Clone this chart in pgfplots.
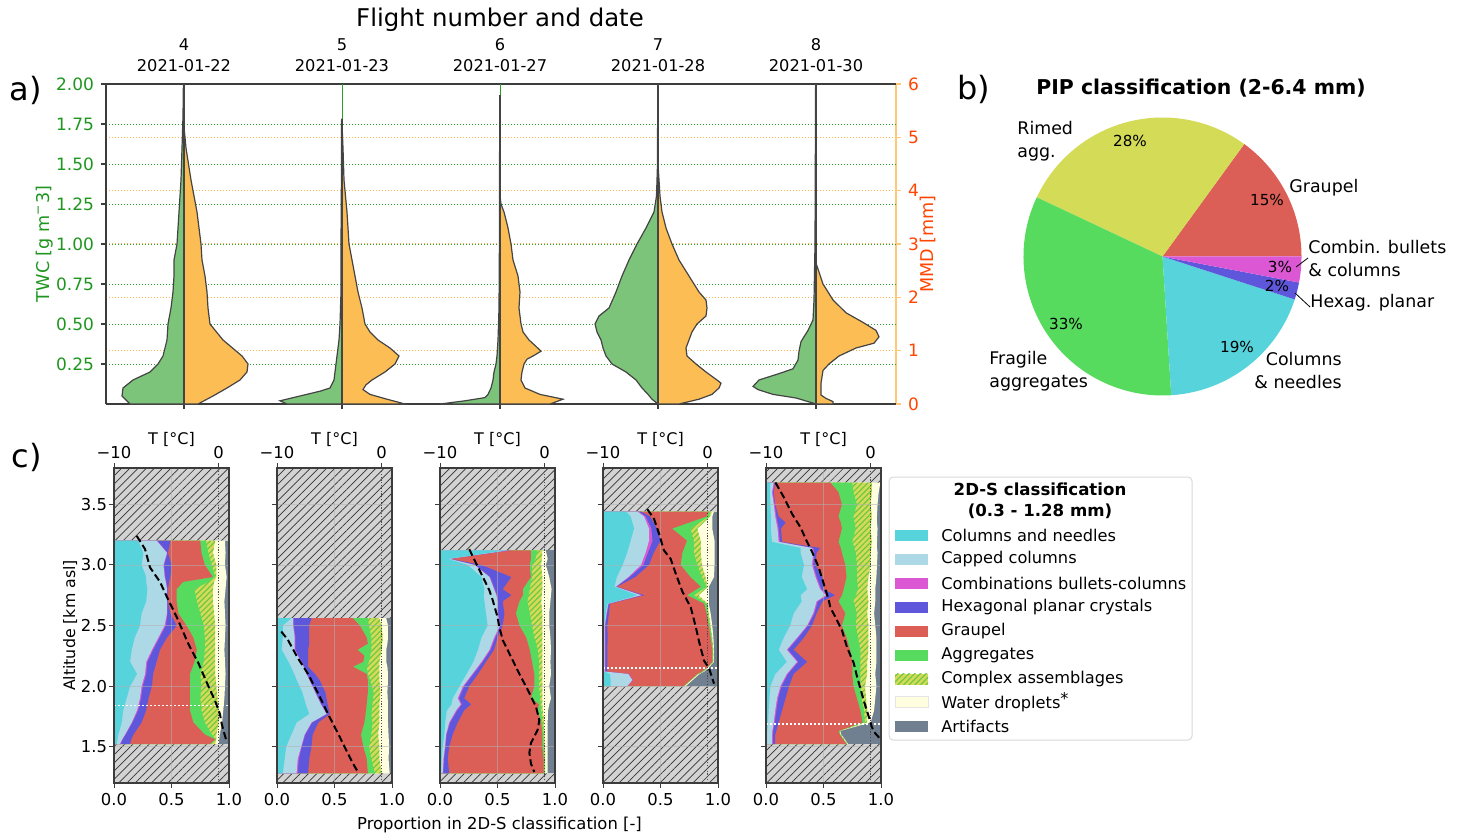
\documentclass[border=0pt]{standalone}
\usepackage{fontspec}
\setmainfont{DejaVu Sans}
\usepackage{pgfplots}
\pgfplotsset{compat=1.18}
\usepackage{pgfplotstable}
\usetikzlibrary{patterns.meta}

\definecolor{cCyan}{HTML}{57D3DB}
\definecolor{cLBlue}{HTML}{ADD8E6}
\definecolor{cMag}{HTML}{DB57D3}
\definecolor{cBlue}{HTML}{5F57DB}
\definecolor{cRed}{HTML}{DB5F57}
\definecolor{cGreen}{HTML}{57DB5F}
\definecolor{cYel}{HTML}{D3DB57}
\definecolor{cHatchG}{RGB}{110,200,70}
\definecolor{cWater}{HTML}{FFFFE0}
\definecolor{cArt}{HTML}{708090}
\definecolor{cHatchBg}{HTML}{D3D3D3}
\definecolor{vGreen}{RGB}{124,196,121}
\definecolor{vOrange}{RGB}{252,189,84}
\definecolor{vEdge}{RGB}{68,68,68}
\definecolor{twcGreen}{RGB}{30,150,30}
\definecolor{twcGrid}{RGB}{40,160,40}
\definecolor{mmdRed}{RGB}{255,69,0}
\definecolor{mmdSpine}{RGB}{255,200,120}
\definecolor{mmdGrid}{RGB}{255,180,80}
\definecolor{spine}{RGB}{60,60,60}

% ---------- panel a: violin halves (y = TWC scale, w = half width) ----------
\pgfplotstableread{
y w
0 0
0 54
0.05 62
0.1 61
0.15 51
0.2 34
0.25 26
0.3 21
0.4 17
0.5 16
0.6 13
0.7 11
0.8 10
0.9 10
1.0 7
1.2 5
1.4 3
1.6 2
1.8 1
2.0 0.6
2.0 0
}\vFourL
\pgfplotstableread{
y w
0 0
0 14
0.05 29
0.1 43
0.15 56
0.2 63
0.25 64
0.3 58
0.4 39
0.5 26
0.6 24
0.7 23
0.8 21
0.9 18
1.0 17
1.2 13
1.4 7
1.6 2
1.7 0.5
1.72 0
}\vFourR
\pgfplotstableread{
y w
0 0
0 55
0.02 62
0.05 42
0.08 22
0.1 12
0.15 8
0.2 7
0.3 5
0.4 3
0.5 2
0.7 1
1.0 1
1.4 0.6
1.78 0.4
1.78 0
}\vFiveL
\pgfplotstableread{
y w
0 0
0 63
0.03 45
0.06 28
0.09 21
0.12 24
0.15 30
0.2 43
0.25 53
0.3 57
0.35 48
0.4 36
0.45 28
0.5 23
0.6 20
0.7 16
0.8 13
0.9 10
1.0 7
1.2 5
1.4 2
1.6 1
1.75 0
}\vFiveR
\pgfplotstableread{
y w
0 0
0 60
0.02 35
0.04 15
0.06 12
0.1 9
0.15 7
0.2 6
0.25 4
0.3 3
0.4 2
0.5 1.5
0.6 1
1.0 0.6
1.9 0.3
1.9 0
}\vSixL
\pgfplotstableread{
y w
0 0
0 50
0.03 63
0.06 40
0.1 25
0.15 21
0.2 22
0.25 24
0.28 27
0.3 33
0.33 41
0.36 36
0.4 29
0.45 23
0.5 21
0.6 19
0.7 20
0.8 18
0.9 13
1.0 11
1.1 8
1.2 4
1.25 1
1.3 0
}\vSixR
\pgfplotstableread{
y w
0 0
0.03 6
0.06 10
0.1 16
0.15 22
0.2 32
0.25 46
0.3 52
0.35 55
0.4 57
0.45 61
0.5 63
0.55 59
0.6 49
0.7 42
0.8 36
0.9 29
1.0 21
1.1 12
1.2 4
1.3 1.5
1.5 0.5
2.0 0.3
2.0 0
}\vSevenL
\pgfplotstableread{
y w
0 0
0 21
0.03 41
0.06 54
0.1 61
0.13 63
0.15 59
0.2 48
0.25 38
0.3 29
0.35 28
0.4 31
0.45 34
0.5 39
0.55 48
0.6 49
0.65 48
0.7 41
0.8 31
0.9 21
1.0 14
1.1 8
1.2 4
1.3 2
1.4 1
1.5 0
}\vSevenR
\pgfplotstableread{
y w
0 0
0.0375 20
0.06 43
0.09 58
0.11 63
0.15 57
0.19 37
0.22 23
0.275 18
0.33 17
0.39 15
0.46 8
0.525 3
0.65 2
1.0 1
2.0 0.4
2.0 0
}\vEightL
\pgfplotstableread{
y w
0 0
0 17
0.015 17
0.035 10
0.056 5
0.13 5
0.21 7
0.25 13
0.3 23
0.35 40
0.38 58
0.42 63
0.46 60
0.51 47
0.57 30
0.65 17
0.75 7
0.88 0
}\vEightR

% ---------- panel c: cumulative class boundaries vs altitude ----------
\pgfplotstableread{
a b1 b2 b3 b4 b5 b6 b7 b8
1.52 0 0 0 0 0 0 0 0
1.52 0.023 0.05 0.055 0.14 0.83 0.84 0.88 0.91
1.56 0.03 0.07 0.075 0.15 0.88 0.885 0.89 0.915
1.6 0.038 0.096 0.1 0.17 0.79 0.85 0.89 0.92
1.7 0.067 0.154 0.16 0.24 0.69 0.79 0.91 0.94
1.8 0.08 0.2 0.21 0.28 0.66 0.76 0.91 0.95
1.9 0.11 0.226 0.235 0.3 0.66 0.75 0.9 0.96
2.0 0.14 0.24 0.25 0.33 0.66 0.76 0.89 0.965
2.1 0.2 0.27 0.28 0.34 0.66 0.75 0.88 0.97
2.2 0.14 0.28 0.29 0.37 0.7 0.78 0.88 0.965
2.3 0.154 0.33 0.34 0.4 0.72 0.79 0.88 0.96
2.4 0.18 0.385 0.395 0.46 0.69 0.79 0.88 0.965
2.5 0.226 0.44 0.45 0.545 0.63 0.78 0.88 0.97
2.6 0.24 0.46 0.465 0.49 0.56 0.75 0.87 0.965
2.7 0.28 0.46 0.465 0.47 0.545 0.72 0.86 0.96
2.8 0.29 0.46 0.465 0.47 0.545 0.7 0.86 0.97
2.86 0.28 0.45 0.455 0.48 0.6 0.82 0.87 0.975
2.9 0.28 0.44 0.445 0.49 0.86 0.88 0.89 0.98
3.0 0.24 0.43 0.435 0.5 0.79 0.85 0.89 0.965
3.1 0.255 0.46 0.465 0.47 0.76 0.82 0.86 0.97
3.2 0.21 0.37 0.375 0.49 0.75 0.8 0.88 0.965
3.2 0 0 0 0 0 0 0 0
}\cOne
\pgfplotstableread{
a b1 b2 b3 b4 b5 b6 b7 b8
1.28 0 0 0 0 0 0 0 0
1.28 0.05 0.17 0.18 0.27 0.79 0.85 0.91 0.98
1.4 0.067 0.18 0.19 0.28 0.78 0.82 0.89 0.97
1.5 0.08 0.21 0.215 0.3 0.75 0.8 0.89 0.975
1.6 0.125 0.24 0.245 0.31 0.73 0.82 0.88 0.97
1.7 0.17 0.3 0.305 0.36 0.76 0.83 0.89 0.965
1.77 0.28 0.43 0.435 0.46 0.77 0.82 0.89 0.965
1.85 0.25 0.38 0.385 0.44 0.78 0.83 0.89 0.965
1.95 0.22 0.33 0.335 0.42 0.79 0.84 0.9 0.96
2.05 0.17 0.28 0.285 0.37 0.79 0.81 0.89 0.965
2.1 0.15 0.255 0.26 0.33 0.78 0.79 0.89 0.965
2.16 0.12 0.23 0.235 0.27 0.66 0.78 0.89 0.96
2.2 0.1 0.21 0.215 0.27 0.75 0.8 0.89 0.95
2.25 0.07 0.18 0.185 0.27 0.76 0.81 0.9 0.95
2.3 0.04 0.154 0.16 0.27 0.7 0.82 0.91 0.95
2.35 0.045 0.154 0.16 0.28 0.79 0.82 0.915 0.96
2.4 0.05 0.154 0.16 0.28 0.78 0.82 0.92 0.965
2.5 0.05 0.14 0.145 0.28 0.72 0.8 0.91 0.965
2.56 0.125 0.14 0.145 0.3 0.66 0.79 0.89 0.95
2.56 0 0 0 0 0 0 0 0
}\cTwo
\pgfplotstableread{
a b1 b2 b3 b4 b5 b6 b7 b8
1.28 0 0 0 0 0 0 0 0
1.28 0.01 0.023 0.028 0.08 0.9 0.91 0.915 0.936
1.4 0.015 0.03 0.035 0.067 0.9 0.91 0.915 0.936
1.5 0.023 0.043 0.048 0.08 0.89 0.9 0.91 0.936
1.6 0.038 0.052 0.057 0.11 0.89 0.9 0.91 0.936
1.7 0.045 0.08 0.088 0.154 0.88 0.89 0.905 0.936
1.8 0.06 0.14 0.15 0.21 0.85 0.88 0.895 0.94
1.85 0.1 0.18 0.19 0.27 0.86 0.875 0.89 0.95
1.9 0.11 0.154 0.165 0.21 0.79 0.87 0.89 0.965
2.0 0.17 0.2 0.21 0.255 0.82 0.86 0.89 0.95
2.1 0.23 0.28 0.29 0.33 0.82 0.86 0.89 0.965
2.2 0.29 0.36 0.37 0.4 0.8 0.86 0.89 0.96
2.3 0.33 0.43 0.44 0.47 0.78 0.85 0.89 0.965
2.4 0.36 0.47 0.48 0.5 0.75 0.82 0.89 0.96
2.5 0.414 0.52 0.525 0.545 0.69 0.8 0.89 0.95
2.6 0.4 0.5 0.505 0.56 0.66 0.78 0.89 0.95
2.7 0.386 0.5 0.505 0.545 0.69 0.76 0.88 0.96
2.75 0.38 0.49 0.495 0.62 0.72 0.77 0.885 0.965
2.8 0.386 0.47 0.475 0.545 0.72 0.78 0.89 0.97
2.9 0.36 0.43 0.435 0.62 0.79 0.8 0.89 0.95
3.0 0.24 0.3 0.305 0.36 0.78 0.8 0.88 0.92
3.05 0.07 0.08 0.085 0.09 0.79 0.83 0.885 0.936
3.12 0.57 0.59 0.595 0.61 0.79 0.85 0.89 0.92
3.12 0 0 0 0 0 0 0 0
}\cThree
\pgfplotstableread{
a b1 b2 b3 b4 b5 b6 b7 b8
2.0 0 0 0 0 0 0 0 0
2.0 0.067 0.21 0.215 0.215 0.7 0.705 0.71 0.72
2.05 0.067 0.255 0.26 0.26 0.76 0.765 0.77 0.78
2.1 0.06 0.22 0.225 0.225 0.82 0.825 0.83 0.84
2.12 0.01 0.015 0.02 0.035 0.86 0.87 0.875 0.88
2.15 0.01 0.015 0.02 0.038 0.9 0.905 0.91 0.915
2.2 0.01 0.015 0.02 0.038 0.95 0.955 0.96 0.965
2.3 0.01 0.015 0.02 0.038 0.95 0.955 0.96 0.965
2.4 0.01 0.015 0.02 0.04 0.936 0.945 0.95 0.96
2.5 0.01 0.015 0.02 0.038 0.92 0.93 0.935 0.95
2.6 0.023 0.03 0.035 0.052 0.9 0.91 0.92 0.936
2.68 0.04 0.045 0.05 0.06 0.88 0.9 0.91 0.92
2.75 0.3 0.33 0.34 0.36 0.73 0.79 0.83 0.92
2.82 0.1 0.11 0.115 0.12 0.85 0.9 0.91 0.92
2.9 0.12 0.22 0.23 0.28 0.76 0.86 0.89 0.965
3.0 0.17 0.33 0.35 0.4 0.675 0.82 0.86 0.97
3.1 0.21 0.37 0.39 0.44 0.69 0.79 0.85 0.97
3.2 0.24 0.4 0.43 0.5 0.73 0.79 0.85 0.97
3.3 0.27 0.4 0.42 0.47 0.6 0.76 0.82 0.95
3.4 0.24 0.357 0.37 0.41 0.9 0.92 0.93 0.95
3.44 0.2 0.3 0.31 0.33 0.92 0.936 0.95 0.965
3.44 0 0 0 0 0 0 0 0
}\cFour
\pgfplotstableread{
a b1 b2 b3 b4 b5 b6 b7 b8
1.52 0 0 0 0 0 0 0 0
1.52 0.01 0.052 0.06 0.08 0.7 0.705 0.71 0.715
1.6 0.01 0.052 0.06 0.08 0.64 0.645 0.65 0.655
1.63 0.01 0.055 0.062 0.09 0.63 0.635 0.64 0.645
1.7 0.018 0.067 0.075 0.11 0.84 0.86 0.88 0.91
1.8 0.023 0.08 0.09 0.14 0.82 0.85 0.88 0.94
1.9 0.03 0.096 0.105 0.17 0.79 0.83 0.87 0.95
2.0 0.038 0.125 0.135 0.2 0.76 0.82 0.86 0.96
2.1 0.08 0.18 0.19 0.24 0.75 0.82 0.88 0.95
2.2 0.18 0.27 0.28 0.357 0.75 0.82 0.88 0.96
2.3 0.11 0.18 0.19 0.24 0.73 0.82 0.89 0.96
2.4 0.154 0.27 0.28 0.33 0.7 0.8 0.89 0.96
2.5 0.21 0.357 0.365 0.4 0.66 0.78 0.89 0.95
2.6 0.24 0.41 0.42 0.44 0.69 0.79 0.88 0.94
2.7 0.31 0.44 0.45 0.49 0.63 0.76 0.89 0.95
2.75 0.3 0.52 0.54 0.6 0.66 0.78 0.885 0.95
2.8 0.357 0.47 0.48 0.5 0.675 0.8 0.88 0.95
2.9 0.31 0.43 0.44 0.49 0.7 0.79 0.89 0.96
3.0 0.33 0.4 0.41 0.43 0.69 0.79 0.91 0.965
3.1 0.3 0.41 0.42 0.44 0.66 0.78 0.91 0.97
3.14 0.3 0.4 0.41 0.47 0.65 0.77 0.915 0.965
3.19 0.052 0.11 0.12 0.14 0.63 0.75 0.92 0.965
3.3 0.042 0.1 0.11 0.13 0.66 0.78 0.91 0.97
3.35 0.042 0.09 0.1 0.17 0.65 0.77 0.915 0.965
3.4 0.042 0.08 0.09 0.11 0.63 0.76 0.92 0.965
3.5 0.038 0.067 0.075 0.08 0.66 0.79 0.91 0.97
3.6 0.033 0.052 0.06 0.067 0.63 0.76 0.92 0.98
3.68 0.038 0.067 0.075 0.08 0.56 0.75 0.92 0.994
3.68 0 0 0 0 0 0 0 0
}\cFive

\newcommand\tickfont{\fontsize{8.5}{10}\selectfont}
\newcommand\ctickfont{\fontsize{8.2}{9.8}\selectfont}

\pgfplotsset{
  cmain/.style={scale only axis, width=57.5pt, height=157.5pt, anchor=south west,
    xmin=0, xmax=1, ymin=1.2, ymax=3.8,
    xtick={0,0.5,1}, xticklabels={0.0,0.5,1.0},
    ytick={1.5,2,2.5,3,3.5}, yticklabels={},
    xtick pos=bottom, ytick pos=left, tick align=outside,
    major tick length=2.5pt, tick style={spine, line width=0.5pt},
    axis line style={spine, line width=0.6pt},
    grid=major, grid style={gray!60, line width=0.4pt, opacity=0.55},
    axis on top,
    ticklabel style={font=\ctickfont}, xticklabel style={yshift=1pt}},
  ctemp/.style={scale only axis, width=57.5pt, height=157.5pt, anchor=south west,
    xmin=-10, xmax=1, ymin=1.2, ymax=3.8,
    axis x line*=top, axis y line=none,
    xtick={-10,0}, xticklabels={−10,0}, tick align=outside, major tick length=2.5pt,
    tick style={spine, line width=0.5pt}, axis line style={spine, line width=0.6pt},
    ticklabel style={font=\ctickfont}, xticklabel style={yshift=-1.5pt},
    xlabel={T [°C]}, xlabel style={font=\fontsize{8}{9.6}\selectfont, yshift=-7pt}},
}

\newcommand\hatchbg{%
  \addplot[fill=cHatchBg, draw=none, postaction={pattern={Lines[angle=45,distance=2.9pt,line width=0.35pt]}, pattern color=black!80}]
    coordinates {(0,1.2) (1,1.2) (1,3.8) (0,3.8)};}
\newcommand\stackfills[3]{%
  \addplot[fill=cArt, draw=none] coordinates {(0,#2) (1,#2) (1,#3) (0,#3)};
  \addplot[fill=cWater, draw=none] table[x=b8,y=a]{#1};
  \addplot[fill=cYel, draw=none, postaction={pattern={Lines[angle=45,distance=2pt,line width=0.6pt]}, pattern color=cHatchG}] table[x=b7,y=a]{#1};
  \addplot[fill=cGreen, draw=none] table[x=b6,y=a]{#1};
  \addplot[fill=cRed, draw=none] table[x=b5,y=a]{#1};
  \addplot[fill=cBlue, draw=none] table[x=b4,y=a]{#1};
  \addplot[fill=cMag, draw=none] table[x=b3,y=a]{#1};
  \addplot[fill=cLBlue, draw=none] table[x=b2,y=a]{#1};
  \addplot[fill=cCyan, draw=none] table[x=b1,y=a]{#1};}
\newcommand\whiteline[1]{%
  \addplot[white, line width=0.9pt, dash pattern=on 0.9pt off 1.1pt] coordinates {(0,#1) (1,#1)};}
\newcommand\zeroline{%
  \addplot[black!70, line width=0.4pt, dash pattern=on 0.6pt off 0.8pt] coordinates {(0,1.2) (0,3.8)};}
\tikzset{tline/.style={black, line width=1pt, dash pattern=on 3.6pt off 1.8pt}}

\begin{document}
\begin{tikzpicture}[x=0.5pt,y=0.5pt]
\useasboundingbox (0,0) rectangle (1460,836);

% ================= panel a =================
\begin{axis}[at={(53pt,216pt)}, anchor=south west, scale only axis, width=395pt, height=160pt,
  xmin=-78, xmax=712, ymin=0, ymax=6,
  axis x line=none, axis y line*=right,
  y axis line style={draw=mmdSpine, line width=0.6pt},
  ytick={0,1,2,3,4,5,6}, yticklabels={0,1,2,3,4,5,6},
  yticklabel style={mmdRed, font=\tickfont},
  ytick style={mmdSpine, line width=0.6pt},
  tick align=outside, major tick length=2.5pt,
  ymajorgrids, grid style={mmdGrid, line width=0.5pt, dash pattern=on 0.5pt off 1pt},
  ylabel={MMD [mm]}, ylabel style={mmdRed, font=\fontsize{8.8}{10}\selectfont}, ylabel shift=-6.5pt,
]
\end{axis}
\begin{axis}[at={(53pt,216pt)}, anchor=south west, scale only axis, width=395pt, height=160pt,
  xmin=-78, xmax=712, ymin=0, ymax=2,
  axis x line*=box, axis y line*=left,
  axis line style={draw=spine, line width=0.6pt},
  xtick={0,158,316,474,632}, xtick pos=lower, xticklabel pos=upper,
  xticklabels={{4\\2021-01-22},{5\\2021-01-23},{6\\2021-01-27},{7\\2021-01-28},{8\\2021-01-30}},
  xticklabel style={align=center, font=\fontsize{8.1}{10.5}\selectfont, text=black},
  ytick={0.25,0.5,0.75,1,1.25,1.5,1.75,2},
  yticklabels={0.25,0.50,0.75,1.00,1.25,1.50,1.75,2.00},
  yticklabel style={twcGreen, font=\tickfont},
  ytick pos=left,
  tick align=outside, major tick length=2.5pt, tick style={spine, line width=0.6pt},
  ymajorgrids, grid style={twcGrid, line width=0.5pt, dash pattern=on 0.5pt off 1pt},
  ylabel={TWC [g m\textsuperscript{−}3]}, ylabel style={twcGreen, font=\fontsize{8.8}{10}\selectfont}, ylabel shift=-5.5pt,
]
\addplot[fill=vGreen, draw=vEdge, line width=0.6pt] table[x expr={0-\thisrow{w}}, y=y]{\vFourL};
\addplot[fill=vOrange, draw=vEdge, line width=0.6pt] table[x expr={0+\thisrow{w}}, y=y]{\vFourR};
\addplot[fill=vGreen, draw=vEdge, line width=0.6pt] table[x expr={158-\thisrow{w}}, y=y]{\vFiveL};
\addplot[fill=vOrange, draw=vEdge, line width=0.6pt] table[x expr={158+\thisrow{w}}, y=y]{\vFiveR};
\addplot[fill=vGreen, draw=vEdge, line width=0.6pt] table[x expr={316-\thisrow{w}}, y=y]{\vSixL};
\addplot[fill=vOrange, draw=vEdge, line width=0.6pt] table[x expr={316+\thisrow{w}}, y=y]{\vSixR};
\addplot[fill=vGreen, draw=vEdge, line width=0.6pt] table[x expr={474-\thisrow{w}}, y=y]{\vSevenL};
\addplot[fill=vOrange, draw=vEdge, line width=0.6pt] table[x expr={474+\thisrow{w}}, y=y]{\vSevenR};
\addplot[fill=vGreen, draw=vEdge, line width=0.6pt] table[x expr={632-\thisrow{w}}, y=y]{\vEightL};
\addplot[fill=vOrange, draw=vEdge, line width=0.6pt] table[x expr={632+\thisrow{w}}, y=y]{\vEightR};
% centre lines
\addplot[vEdge, line width=0.9pt] coordinates {(0,0) (0,2)};
\addplot[twcGrid, line width=0.5pt] coordinates {(158,1.78) (158,2)};
\addplot[vEdge, line width=0.9pt] coordinates {(158,0) (158,1.78)};
\addplot[twcGrid, line width=0.5pt] coordinates {(316,1.93) (316,2)};
\addplot[vEdge, line width=0.9pt] coordinates {(316,0) (316,1.93)};
\addplot[vEdge, line width=0.9pt] coordinates {(474,0) (474,2)};
\addplot[vEdge, line width=0.9pt] coordinates {(632,0) (632,2)};
\end{axis}

\node[font=\fontsize{12.2}{14}\selectfont] at (500,816) {Flight number and date};
\node[font=\fontsize{16}{18}\selectfont] at (25.5,746) {a)};
\node[font=\fontsize{16}{18}\selectfont] at (974,747) {b)};
\node[font=\fontsize{16}{18}\selectfont] at (27,379) {c)};

% ================= panel b (pie) =================
\node[font=\bfseries\fontsize{10.2}{12}\selectfont] at (1201,748) {PIP classification (2-6.4 mm)};
\begin{scope}[shift={(1162.5,579.5)}]
  % shares: Graupel 15, Rimed agg. 28, Fragile agg. 33, Columns 19, Hexag. 2, Combin. 3 (%)
  \fill[cRed]   (0,0) -- (0:69.5pt) arc[start angle=0, end angle=54, radius=69.5pt] -- cycle;
  \fill[cYel]   (0,0) -- (54:69.5pt) arc[start angle=54, end angle=154.8, radius=69.5pt] -- cycle;
  \fill[cGreen] (0,0) -- (154.8:69.5pt) arc[start angle=154.8, end angle=273.6, radius=69.5pt] -- cycle;
  \fill[cCyan]  (0,0) -- (273.6:69.5pt) arc[start angle=273.6, end angle=342, radius=69.5pt] -- cycle;
  \fill[cBlue]  (0,0) -- (342:69.5pt) arc[start angle=342, end angle=349.2, radius=69.5pt] -- cycle;
  \fill[cMag]   (0,0) -- (349.2:69.5pt) arc[start angle=349.2, end angle=360, radius=69.5pt] -- cycle;
\end{scope}
\begin{scope}[font=\fontsize{8.7}{11.5}\selectfont, inner sep=0pt]
  \node[anchor=west, align=left] at (1017,694.5) {Rimed\\agg.};
  \node[anchor=west] at (1289,648) {Graupel};
  \node[anchor=west, align=left] at (1308,577) {Combin. bullets\\\& columns};
  \node[anchor=west] at (1310,533) {Hexag. planar};
  \node[anchor=west, align=left] at (989,465) {Fragile\\aggregates};
  \node[anchor=east, align=right] at (1342,465) {Columns\\\& needles};
\end{scope}
\begin{scope}[font=\fontsize{7.6}{9}\selectfont]
  \node at (1130,695) {28\%};
  \node at (1267,636) {15\%};
  \node at (1280,569) {3\%};
  \node at (1277,550) {2\%};
  \node at (1066,512) {33\%};
  \node at (1237,489) {19\%};
\end{scope}
\draw[black, line width=0.4pt] (1296,569) -- (1308,578);
\draw[black, line width=0.4pt] (1295,543) -- (1310,529);

% ================= panel c =================
% flight 4
\begin{axis}[cmain, at={(57pt,26.5pt)}, yticklabels={1.5,2.0,2.5,3.0,3.5},
  yticklabel style={xshift=2.5pt},
  ylabel={Altitude [km asl]}, ylabel style={font=\fontsize{7.9}{9.5}\selectfont}, ylabel shift=-5pt]
\hatchbg
\stackfills{\cOne}{1.52}{3.2}
\whiteline{1.84}
\end{axis}
\begin{axis}[ctemp, at={(57pt,26.5pt)}]
\zeroline
\addplot[tline] coordinates {(-7.83,3.24) (-7.03,3.13) (-6.56,2.98) (-5.6,2.86) (-4.8,2.71) (-4.0,2.57) (-2.9,2.35) (-1.93,2.19) (-0.98,2.0) (-0.34,1.88) (0.13,1.77) (0.3,1.69) (0.45,1.64) (0.78,1.54)};
\end{axis}
% flight 5
\begin{axis}[cmain, at={(138.5pt,26.5pt)}]
\hatchbg
\stackfills{\cTwo}{1.28}{2.56}
\end{axis}
\begin{axis}[ctemp, at={(138.5pt,26.5pt)}]
\zeroline
\addplot[tline] coordinates {(-9.59,2.45) (-8.95,2.38) (-8.0,2.23) (-7.03,2.1) (-6.07,1.94) (-5.12,1.77) (-4.17,1.61) (-3.37,1.47) (-2.73,1.36) (-2.25,1.29)};
\end{axis}
% flight 6
\begin{axis}[cmain, at={(220pt,26.5pt)}]
\hatchbg
\stackfills{\cThree}{1.28}{3.12}
\end{axis}
\begin{axis}[ctemp, at={(220pt,26.5pt)}]
\zeroline
\addplot[tline] coordinates {(-7.2,3.13) (-6.7,3.04) (-6.07,2.93) (-5.28,2.79) (-4.96,2.71) (-4.5,2.57) (-4.33,2.49) (-4.0,2.38) (-3.2,2.24) (-2.41,2.1) (-1.61,1.97) (-0.82,1.83) (-0.5,1.72) (-0.65,1.64) (-1.3,1.53) (-1.45,1.45) (-1.3,1.36) (-0.98,1.29)};
\end{axis}
% flight 7
\begin{axis}[cmain, at={(301.5pt,26.5pt)}]
\hatchbg
\stackfills{\cFour}{2.0}{3.44}
\whiteline{2.15}
\end{axis}
\begin{axis}[ctemp, at={(301.5pt,26.5pt)}]
\zeroline
\addplot[tline] coordinates {(-5.76,3.46) (-5.12,3.38) (-4.65,3.26) (-4.17,3.12) (-3.53,3.05) (-3.05,2.93) (-2.41,2.78) (-1.61,2.65) (-1.13,2.49) (-0.82,2.37) (-0.34,2.21) (0.13,2.15) (0.62,2.02)};
\end{axis}
% flight 8
\begin{axis}[cmain, at={(383pt,26.5pt)}]
\hatchbg
\stackfills{\cFive}{1.52}{3.68}
\whiteline{1.69}
\end{axis}
\begin{axis}[ctemp, at={(383pt,26.5pt)}]
\zeroline
\addplot[tline] coordinates {(-9.1,3.68) (-8.3,3.56) (-7.5,3.42) (-6.7,3.31) (-6.07,3.19) (-5.6,3.11) (-4.96,2.98) (-4.5,2.85) (-4.0,2.71) (-3.85,2.65) (-3.37,2.57) (-2.73,2.46) (-2.25,2.32) (-1.61,2.19) (-1.3,2.08) (-0.65,1.88) (-0.18,1.75) (0.13,1.66) (0.45,1.61) (0.87,1.57)};
\end{axis}

\node[font=\fontsize{8.2}{9.8}\selectfont] at (499.5,11) {Proportion in 2D-S classification [-]};

% legend of panel c
\draw[black!15, line width=0.5pt, rounded corners=2pt, fill=white] (889,96) rectangle (1192,359);
\node[align=center, font=\bfseries\fontsize{8.3}{10.5}\selectfont] at (1040,335) {2D-S classification\\(0.3 - 1.28 mm)};
\begin{scope}[font=\fontsize{8.1}{9.7}\selectfont]
  \fill[cCyan]  (895,295.5) rectangle (928,306.5); \node[anchor=west, inner sep=0] at (941,301) {Columns and needles};
  \fill[cLBlue] (895,271.5) rectangle (928,282.5); \node[anchor=west, inner sep=0] at (941,277) {Capped columns};
  \fill[cMag]   (895,247.5) rectangle (928,258.5); \node[anchor=west, inner sep=0] at (941,253) {Combinations bullets-columns};
  \fill[cBlue]  (895,223.5) rectangle (928,234.5); \node[anchor=west, inner sep=0] at (941,229) {Hexagonal planar crystals};
  \fill[cRed]   (895,199.5) rectangle (928,210.5); \node[anchor=west, inner sep=0] at (941,205) {Graupel};
  \fill[cGreen] (895,175.5) rectangle (928,186.5); \node[anchor=west, inner sep=0] at (941,181) {Aggregates};
  \fill[cYel]   (895,151.5) rectangle (928,162.5);
  \fill[pattern={Lines[angle=45,distance=2pt,line width=0.6pt]}, pattern color=cHatchG] (895,151.5) rectangle (928,162.5);
  \node[anchor=west, inner sep=0] at (941,157) {Complex assemblages};
  \filldraw[fill=cWater, draw=black!10, line width=0.4pt] (895,128.5) rectangle (928,139.5); \node[anchor=west, inner sep=0] at (941,134) {Water droplets\raisebox{0.45ex}{*}};
  \fill[cArt]   (895,104.5) rectangle (928,115.5); \node[anchor=west, inner sep=0] at (941,110) {Artifacts};
\end{scope}
\end{tikzpicture}
\end{document}
